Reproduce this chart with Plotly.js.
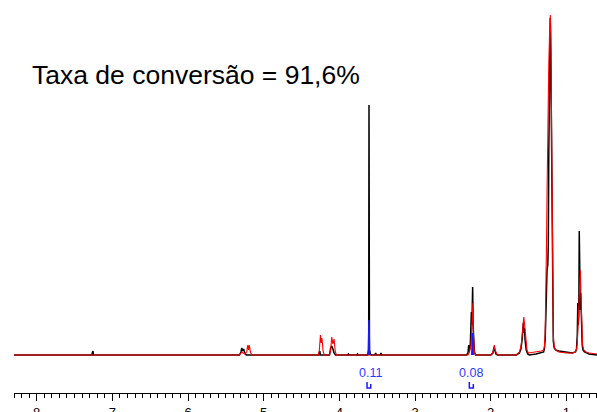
<!DOCTYPE html>
<html>
<head>
<meta charset="utf-8">
<script src="https://cdn.plot.ly/plotly-3.0.1.min.js"></script>
<style>html,body{margin:0;padding:0;background:#fff;}#chart{width:597px;height:412px;}</style>
</head>
<body>
<div id="chart"></div>
<script>
// Chemical shift (ppm) and intensity
const ppmBlack = [8.30,7.27,7.262,7.256,7.25,5.32,5.30,5.29,5.28,5.265,5.25,5.23,4.27,4.258,4.25,4.13,4.115,4.10,4.085,4.07,4.05,3.89,3.88,3.87,3.77,3.76,3.75,3.625,3.612,3.608,3.602,3.59,3.58,3.53,3.52,3.51,3.46,3.45,3.44,2.32,2.30,2.29,2.285,2.27,2.255,2.248,2.238,2.232,2.225,2.215,2.20,2.0,1.97,1.955,1.945,1.93,1.91,1.66,1.62,1.60,1.585,1.575,1.568,1.562,1.555,1.545,1.53,1.51,1.49,1.40,1.32,1.30,1.29,1.28,1.27,1.262,1.255,1.245,1.238,1.232,1.222,1.212,1.205,1.198,1.19,1.18,1.172,1.16,1.14,1.10,1.0,0.92,0.88,0.865,0.855,0.848,0.842,0.835,0.829,0.822,0.815,0.81,0.80,0.79,0.78,0.76,0.70,0.59];
const intBlack = [0,0,3,4,0,0,3,7,4,6,2,0,0,4,0,0,7,9,6,2,0,0,1,0,0,1,0,0,5,250,5,1,0,0,2,0,0,2,0,0,2,10,4,8,43,30,68,30,20,3,0,0,2,8,5,1,0,0,2,6,15,25,32,22,27,15,5,1,0,1,2,3,6,15,40,70,85,90,110,200,310,337,300,230,120,40,14,7,5,4,3,2,3,6,20,52,30,40,124,50,45,62,25,10,5,3,1,0];
const ppmRed = [8.30,5.32,5.29,5.27,5.25,5.225,5.21,5.20,5.19,5.175,5.16,4.28,4.265,4.25,4.24,4.23,4.215,4.20,4.13,4.115,4.10,4.085,4.07,4.055,4.04,2.30,2.28,2.26,2.245,2.235,2.228,2.215,2.20,1.99,1.965,1.952,1.94,1.92,1.90,1.66,1.62,1.60,1.585,1.57,1.562,1.55,1.535,1.52,1.50,1.40,1.33,1.30,1.29,1.28,1.27,1.262,1.255,1.245,1.232,1.22,1.212,1.205,1.198,1.19,1.18,1.172,1.16,1.14,1.10,1.00,0.92,0.88,0.865,0.855,0.845,0.835,0.825,0.815,0.805,0.795,0.785,0.77,0.74,0.70,0.59];
const intRed = [0,0,3,2,1,3,10,5,10,3,0,0,4,20,12,17,4,0,0,5,18,11,16,4,0,0,3,10,30,52,20,3,0,0,4,10,5,1,0,0,3,8,18,32,38,30,12,5,2,3,4,5,8,20,60,110,160,230,290,325,340,320,250,150,60,20,8,5,3,2,2,3,6,12,28,50,75,85,55,25,10,5,3,2,1];
// Integrated regions (blue), separated by a gap
const ppmBlue = [3.618,3.608,3.600,null,2.250,2.240,2.230];
const intBlue = [0,35,0,null,0,22,0];
// Integral values
const integralPpm = [3.594, 2.256];
const integralText = ["0.11", "0.08"];
// Integral bracket marks
const markPpm = [3.634,3.634,3.585,3.585,null,2.282,2.282,2.229,2.229];
const markInt = [-27,-33,-33,-29,null,-27,-33,-33,-29];
const tickVals = [1,2,3,4,5,6,7,8];
const tickText = ["1","2","3","4","5","6","7","8"];
const titleText = "Taxa de conversão = 91,6%";

const font = "Liberation Sans, Arial, sans-serif";
const traces = [
  {x: ppmBlack, y: intBlack, type: "scatter", mode: "lines", line: {color: "#000000", width: 1.5}, hoverinfo: "skip"},
  {x: ppmRed, y: intRed, type: "scatter", mode: "lines", line: {color: "#ff0000", width: 1.1}, hoverinfo: "skip"},
  {x: ppmBlue, y: intBlue, type: "scatter", mode: "lines", line: {color: "#1a1aff", width: 1.5}, connectgaps: false, hoverinfo: "skip"},
  {x: markPpm, y: markInt, type: "scatter", mode: "lines", line: {color: "#1a1aff", width: 1.5}, connectgaps: false, hoverinfo: "skip"}
];
const annotations = integralPpm.map((p, i) => ({
  x: p, y: -18, xref: "x", yref: "y", text: integralText[i], showarrow: false,
  xanchor: "center", yanchor: "middle", font: {family: font, size: 12.5, color: "#2a3cff"}
}));
annotations.push({
  x: (30 - 14) / 583, y: 1 - 75 / 393, xref: "paper", yref: "paper", text: titleText,
  showarrow: false, xanchor: "left", yanchor: "middle", font: {family: font, size: 26.5, color: "#000000"}
});
const layout = {
  width: 597, height: 412,
  margin: {l: 14, r: 0, t: 0, b: 19, pad: 0},
  paper_bgcolor: "#ffffff", plot_bgcolor: "#ffffff",
  showlegend: false,
  xaxis: {
    range: [8.300, 0.5945], showgrid: false, zeroline: false,
    showline: true, linecolor: "#000000", linewidth: 1,
    ticks: "outside", ticklen: 7, tickwidth: 1, tickcolor: "#000000",
    tickvals: tickVals, ticktext: tickText,
    minor: {dtick: 0.1, tick0: 0, ticks: "outside", ticklen: 4, tickwidth: 1, tickcolor: "#000000", showgrid: false},
    tickfont: {family: font, size: 13, color: "#000000"}
  },
  yaxis: {range: [-38, 355], visible: false, showgrid: false, zeroline: false},
  annotations: annotations
};
Plotly.newPlot("chart", traces, layout, {staticPlot: true, displayModeBar: false});
</script>
</body>
</html>
